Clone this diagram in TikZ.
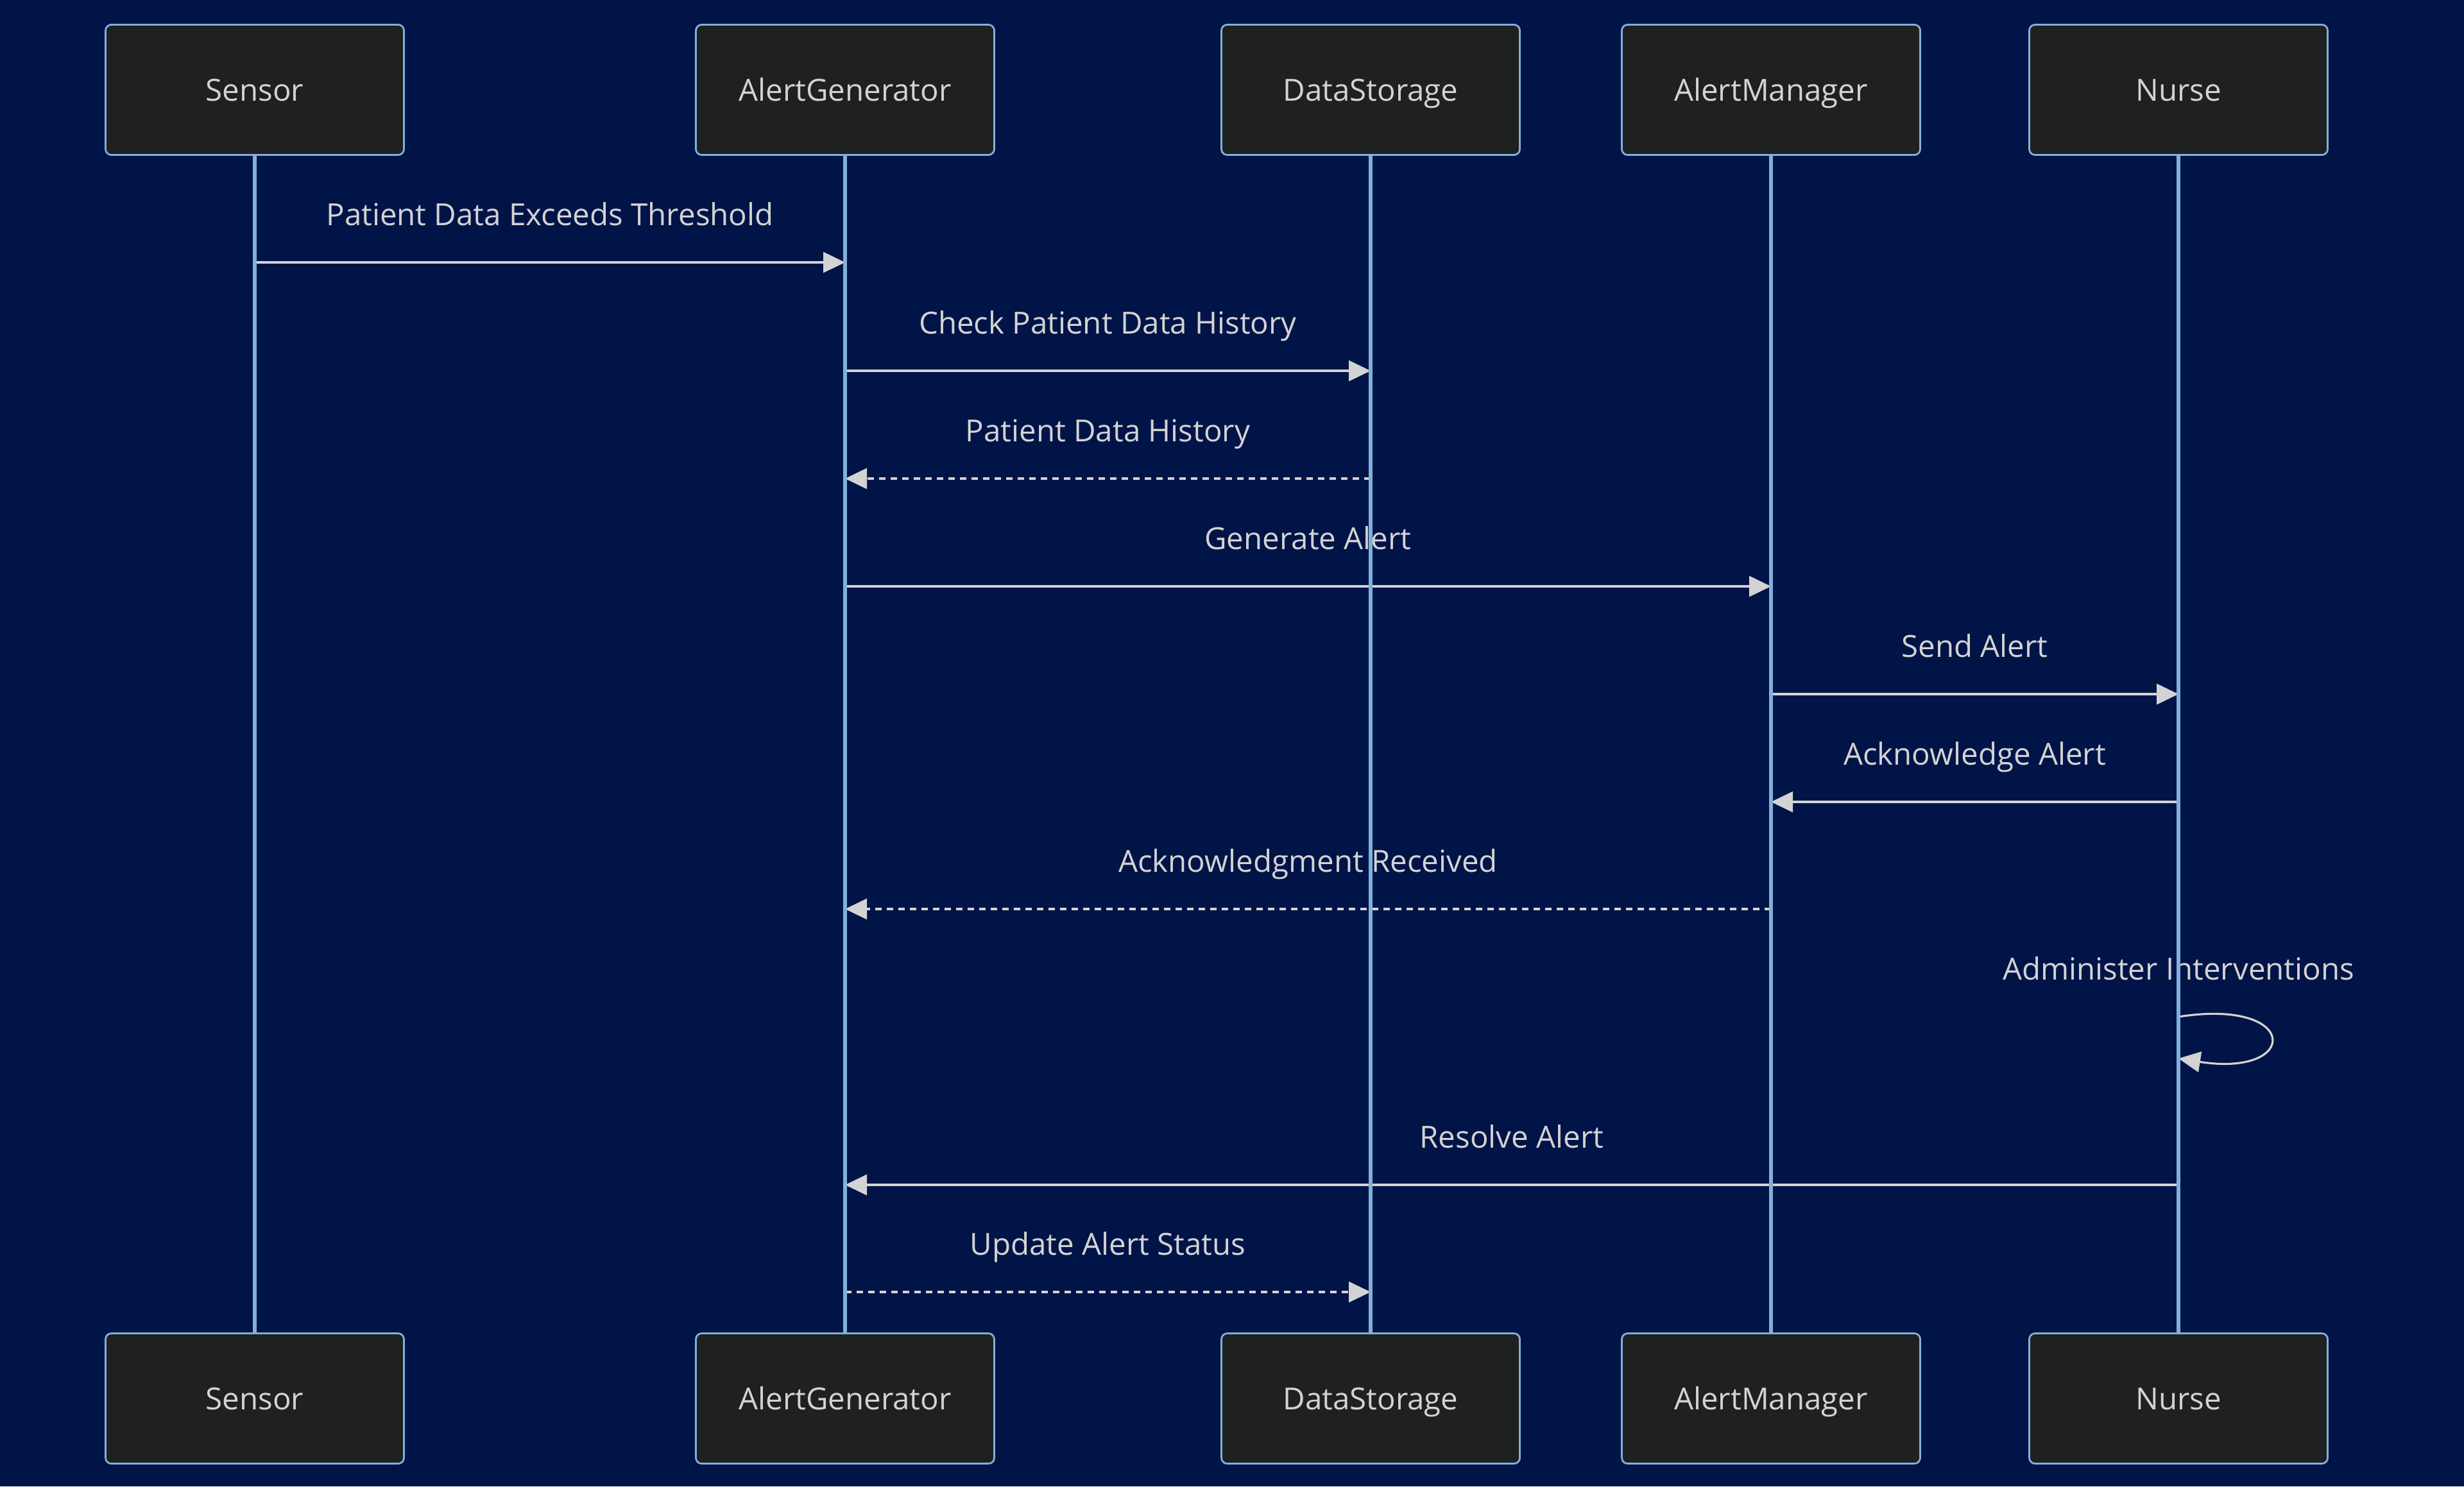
\documentclass[tikz,border=0pt]{standalone}
\usepackage{fontspec}
\setmainfont{Open Sans}
\usepackage{tikz}
\usetikzlibrary{arrows.meta, positioning, calc}
\definecolor{bgnavy}{HTML}{011447}
\definecolor{boxfill}{HTML}{1F2020}
\definecolor{lineblue}{HTML}{81B1DB}
\definecolor{msggrey}{HTML}{D3D3D3}
\tikzstyle{actor} = [rectangle, rounded corners=0.09cm, minimum width=4.65cm, minimum height=2.03cm, text centered, text height=2ex, text depth=0.14ex, draw=lineblue, line width=0.8pt, fill=boxfill, text=msggrey, font=\fontsize{13.5}{16}\selectfont]
\tikzstyle{lifeline} = [draw=lineblue, line width=1.6pt]
\tikzstyle{msg} = [draw=msggrey, line width=0.9pt, -{Triangle[length=0.34cm, width=0.32cm]}]
\tikzstyle{reply} = [msg, dash pattern=on 0.1cm off 0.08cm]
\tikzstyle{lbl} = [text=msggrey, text height=2ex, text depth=0.14ex, font=\fontsize{13.5}{16}\selectfont, yshift=0.75cm]

\begin{document}
\begin{tikzpicture}[node distance=20.4cm]
\useasboundingbox (0,0) rectangle (38.4,-23.17);
\fill[bgnavy] (0,0) rectangle (38.4,-23.17);

\node (sensor) [actor] at (3.97,-1.40) {Sensor};
\node (alertgen) [actor] at (13.17,-1.40) {AlertGenerator};
\node (datastore) [actor] at (21.36,-1.40) {DataStorage};
\node (alertmgr) [actor] at (27.60,-1.40) {AlertManager};
\node (nurse) [actor] at (33.95,-1.40) {Nurse};
\node (sensorB) [actor, below of=sensor] {Sensor};
\node (alertgenB) [actor, below of=alertgen] {AlertGenerator};
\node (datastoreB) [actor, below of=datastore] {DataStorage};
\node (alertmgrB) [actor, below of=alertmgr] {AlertManager};
\node (nurseB) [actor, below of=nurse] {Nurse};

% messages
\draw[msg] (sensor |- 0,-4.09) -- (alertgen |- 0,-4.09) node[lbl, midway] {Patient Data Exceeds Threshold};
\draw[msg] (alertgen |- 0,-5.78) -- (datastore |- 0,-5.78) node[lbl, midway] {Check Patient Data History};
\draw[reply] (datastore |- 0,-7.46) -- (alertgen |- 0,-7.46) node[lbl, midway] {Patient Data History};
\draw[msg] (alertgen |- 0,-9.14) -- (alertmgr |- 0,-9.14) node[lbl, midway] {Generate Alert};
\draw[msg] (alertmgr |- 0,-10.82) -- (nurse |- 0,-10.82) node[lbl, midway] {Send Alert};
\draw[msg] (nurse |- 0,-12.50) -- (alertmgr |- 0,-12.50) node[lbl, midway] {Acknowledge Alert};
\draw[reply] (alertmgr |- 0,-14.17) -- (alertgen |- 0,-14.17) node[lbl, midway] {Acknowledgment Received};
\node (selflbl) [lbl] at (nurse |- 0,-15.85) {Administer Interventions};
\draw[msg] (nurse |- 0,-15.85) .. controls +(1.9,0.30) and +(1.9,-0.30) .. (nurse |- 0,-16.50);
\draw[msg] (nurse |- 0,-18.47) -- (alertgen |- 0,-18.47) node[lbl, midway] {Resolve Alert};
\draw[reply] (alertgen |- 0,-20.14) -- (datastore |- 0,-20.14) node[lbl, midway] {Update Alert Status};

% lifelines
\draw[lifeline] (sensor) -- (sensorB);
\draw[lifeline] (alertgen) -- (alertgenB);
\draw[lifeline] (datastore) -- (datastoreB);
\draw[lifeline] (alertmgr) -- (alertmgrB);
\draw[lifeline] (nurse) -- (nurseB);
\end{tikzpicture}
\end{document}
